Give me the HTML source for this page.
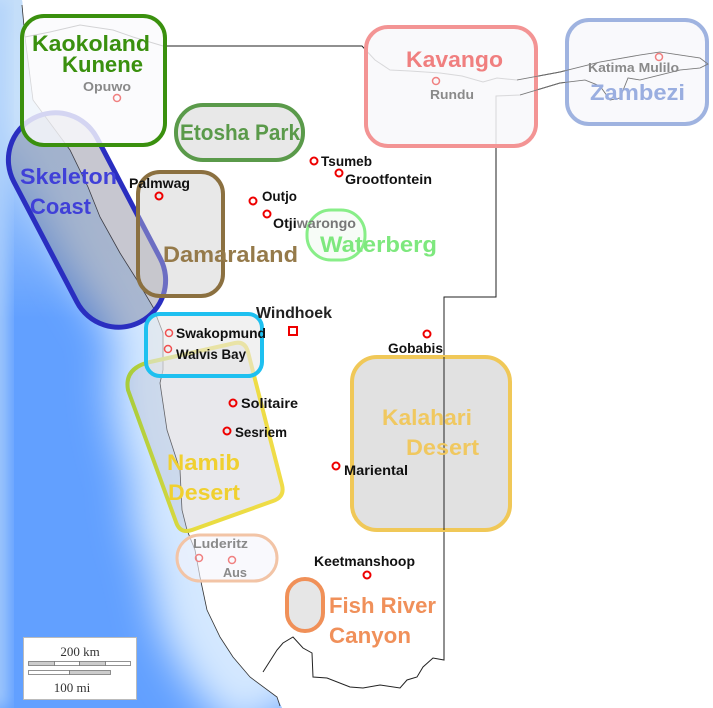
<!DOCTYPE html>
<html><head><meta charset="utf-8"><style>
html,body{margin:0;padding:0;background:#fff}
svg{display:block}
.c{font-family:"Liberation Sans",sans-serif;font-weight:bold;font-size:14px;fill:#111}
.r{font-family:"Liberation Sans",sans-serif;font-weight:bold;font-size:22px}
.g{font-family:"Liberation Sans",sans-serif;font-weight:bold;font-size:13px;fill:#8a8a8a}
</style></head><body>
<svg width="713" height="708" viewBox="0 0 713 708" xmlns="http://www.w3.org/2000/svg">
<defs>
<clipPath id="oc"><path d="M0,0 L22,0 L24,30 L25,37 L33,100 L53,127 L70,150 L88,187 L100,217 L120,253 L137,280 L153,307 L163,333 L163,370 L160,383 L167,430 L180,470 L182,510 L187,530 L195,550 L200,577 L207,610 L220,637 L233,657 L250,677 L277,697 L282,708 L0,708 Z"/></clipPath>
<filter id="bl" x="-50%" y="-50%" width="200%" height="200%"><feGaussianBlur stdDeviation="20"/></filter>
<filter id="bl2" x="-50%" y="-50%" width="200%" height="200%"><feGaussianBlur stdDeviation="8"/></filter>
<linearGradient id="ng" x1="0" y1="0" x2="1" y2="0"><stop offset="0" stop-color="#a8cc3c"/><stop offset="0.45" stop-color="#e8dc40"/><stop offset="1" stop-color="#f0dc48"/></linearGradient>
<linearGradient id="tv" x1="0" y1="0" x2="0" y2="1"><stop offset="0" stop-color="#c4def9"/><stop offset="0.2" stop-color="#c4def9" stop-opacity="0.7"/><stop offset="0.45" stop-color="#c4def9" stop-opacity="0"/></linearGradient>
</defs>
<rect width="713" height="708" fill="#fff"/>
<g clip-path="url(#oc)">
<rect width="300" height="708" fill="#62a0ff"/>
<path d="M22,0 L25,37 L33,100 L53,127 L70,150 L88,187 L100,217 L120,253 L137,280 L153,307 L163,333 L163,370 L160,383 L167,430 L180,470 L182,510 L187,530 L195,550 L200,577 L207,610 L220,637 L233,657 L250,677 L277,697 L282,708" fill="none" stroke="#d4e8ff" stroke-width="100" filter="url(#bl)"/>
<rect width="300" height="708" fill="url(#tv)"/>
<rect x="-10" y="0" width="16" height="708" fill="#b0d2fb" filter="url(#bl2)"/>
</g>
<path d="M22,5 L25,37 L33,100 L53,127 L70,150 L88,187 L100,217 L120,253 L137,280 L153,307 L163,333 L163,370 L160,383 L167,430 L180,470 L182,510 L187,530 L195,550 L200,577 L207,610 L220,637 L233,657 L250,677 L277,697 L280,706" fill="none" stroke="#333" stroke-width="0.8"/>
<path d="M25,37 L50,32 L80,25 L93,27 L113,30 L133,37 L163,46 L362,46 L375,60 L390,70 L410,71 L440,73 L462,76 L483,82 L497,78 L517,80 L560,72 L600,62 L640,55 L660,52 L680,55 L700,58 L708,64 L700,68 L680,70 L660,75 L640,80 L628,78 L620,98 L610,100 L600,86 L585,80 L560,83 L520,95 L496,96 L496,297 L444,297 L444,660 L433,658 L423,667 L417,677 L407,680 L400,688 L380,685 L363,688 L350,687 L327,678 L313,677 L312,653 L303,648 L293,637 L283,643 L277,650 L263,672" fill="none" stroke="#222" stroke-width="1"/>
<g transform="translate(87,220) rotate(-27.7)">
<rect x="-47" y="-115" width="94" height="230" rx="47" fill="rgba(80,80,110,0.32)" stroke="#2a2ec0" stroke-width="5"/>
</g>
<rect x="22" y="16" width="143" height="129" rx="22" fill="rgba(250,250,253,0.82)" stroke="#3a900e" stroke-width="4"/>
<text class="r" x="32" y="51" fill="#3a900e" textLength="118" lengthAdjust="spacingAndGlyphs">Kaokoland</text>
<text class="r" x="62" y="72" fill="#3a900e" textLength="81" lengthAdjust="spacingAndGlyphs">Kunene</text>
<text class="g" x="83" y="91" textLength="48" lengthAdjust="spacingAndGlyphs">Opuwo</text>
<circle cx="117" cy="98" r="3.5" fill="none" stroke="#f08080" stroke-width="1.5"/>
<text class="r" x="20" y="184" fill="#4040d8" textLength="97" lengthAdjust="spacingAndGlyphs">Skeleton</text>
<text class="r" x="30" y="214" fill="#4040d8" textLength="61" lengthAdjust="spacingAndGlyphs">Coast</text>
<rect x="176" y="105" width="127" height="55" rx="27" fill="#e8e8e8" stroke="#5a9a4a" stroke-width="4"/>
<text class="r" x="180" y="140" fill="#5a9a4a" textLength="120" lengthAdjust="spacingAndGlyphs">Etosha Park</text>
<rect x="138" y="172" width="85" height="124" rx="22" fill="rgba(200,200,200,0.42)" stroke="#8b7040" stroke-width="4"/>
<text class="r" x="163" y="262" fill="#957a4a" textLength="135" lengthAdjust="spacingAndGlyphs">Damaraland</text>
<rect x="307" y="210" width="58" height="50" rx="24" fill="rgba(240,250,240,0.5)" stroke="#88ee88" stroke-width="3"/>
<text class="r" x="320" y="252" fill="#7ee87e" textLength="117" lengthAdjust="spacingAndGlyphs">Waterberg</text>
<rect x="366" y="27" width="170" height="119" rx="22" fill="rgba(248,248,250,0.85)" stroke="#f39494" stroke-width="4"/>
<text class="r" x="406" y="67" fill="#f07f7f" textLength="97" lengthAdjust="spacingAndGlyphs">Kavango</text>
<circle cx="436" cy="81" r="3.5" fill="none" stroke="#f08080" stroke-width="1.5"/>
<text class="g" x="430" y="99" textLength="44" lengthAdjust="spacingAndGlyphs">Rundu</text>
<rect x="567" y="20" width="140" height="104" rx="22" fill="rgba(248,248,252,0.85)" stroke="#9fb3e0" stroke-width="4"/>
<path d="M517,80 L560,72 L600,62 L640,55 L660,52 L680,55 L700,58 L708,64 L700,68 L680,70 L660,75 L640,80 L628,78 L620,98 L610,100 L600,86 L585,80 L560,83 L520,95" fill="none" stroke="#777" stroke-width="0.8"/>
<circle cx="659" cy="57" r="3.5" fill="none" stroke="#f08080" stroke-width="1.5"/>
<text class="g" x="588" y="72" textLength="91" lengthAdjust="spacingAndGlyphs">Katima Mulilo</text>
<text class="r" x="590" y="100" fill="#9aaee0" textLength="95" lengthAdjust="spacingAndGlyphs">Zambezi</text>
<path d="M150,362 L235,343 Q245,341 248,352 L282,485 Q285,497 273,501 L192,530 Q180,534 176,522 L128,390 Q124,368 150,362 Z" fill="rgba(190,190,200,0.35)" stroke="url(#ng)" stroke-width="4"/>
<text class="r" x="167" y="470" fill="#f0d030" textLength="73" lengthAdjust="spacingAndGlyphs">Namib</text>
<text class="r" x="168" y="500" fill="#f0d030" textLength="72" lengthAdjust="spacingAndGlyphs">Desert</text>
<rect x="146" y="314" width="116" height="62" rx="14" fill="rgba(232,232,232,0.6)" stroke="#1ec0f0" stroke-width="4"/>
<circle cx="169" cy="333" r="3.5" fill="none" stroke="#f05050" stroke-width="1.5"/>
<text class="c" x="176" y="338" fill="#333" textLength="90" lengthAdjust="spacingAndGlyphs">Swakopmund</text>
<circle cx="168" cy="349" r="3.5" fill="none" stroke="#f05050" stroke-width="1.5"/>
<text class="c" x="176" y="359" fill="#444" textLength="70" lengthAdjust="spacingAndGlyphs">Walvis Bay</text>
<rect x="177" y="535" width="100" height="46" rx="23" fill="rgba(245,245,252,0.6)" stroke="#f2c4a6" stroke-width="3"/>
<text class="g" x="193" y="548" fill="#777" textLength="55" lengthAdjust="spacingAndGlyphs">Luderitz</text>
<circle cx="199" cy="558" r="3.5" fill="none" stroke="#f08080" stroke-width="1.5"/>
<circle cx="232" cy="560" r="3.5" fill="none" stroke="#f08080" stroke-width="1.5"/>
<text class="g" x="223" y="577" fill="#777" textLength="24" lengthAdjust="spacingAndGlyphs">Aus</text>
<rect x="352" y="357" width="158" height="173" rx="25" fill="rgba(222,222,222,0.9)" stroke="#f0c858" stroke-width="4"/>
<line x1="444" y1="357" x2="444" y2="530" stroke="#222" stroke-width="1"/>
<text class="r" x="382" y="425" fill="#f0c860" textLength="90" lengthAdjust="spacingAndGlyphs">Kalahari</text>
<text class="r" x="406" y="455" fill="#f0c860" textLength="73" lengthAdjust="spacingAndGlyphs">Desert</text>
<rect x="287" y="579" width="36" height="52" rx="18" fill="#e6e6e6" stroke="#f09058" stroke-width="4"/>
<text class="r" x="329" y="613" fill="#f0905a" textLength="107" lengthAdjust="spacingAndGlyphs">Fish River</text>
<text class="r" x="329" y="643" fill="#f0905a" textLength="82" lengthAdjust="spacingAndGlyphs">Canyon</text>
<g fill="none" stroke="#e00" stroke-width="2">
<circle cx="314" cy="161" r="3.5"/><circle cx="339" cy="173" r="3.5"/><circle cx="159" cy="196" r="3.5"/>
<circle cx="253" cy="201" r="3.5"/><circle cx="267" cy="214" r="3.5"/><circle cx="427" cy="334" r="3.5"/>
<circle cx="233" cy="403" r="3.5"/><circle cx="227" cy="431" r="3.5"/><circle cx="336" cy="466" r="3.5"/>
<circle cx="367" cy="575" r="3.5"/><rect x="289" y="327" width="8" height="8"/>
</g>
<text class="c" x="321" y="166" textLength="51" lengthAdjust="spacingAndGlyphs">Tsumeb</text>
<text class="c" x="345" y="184" textLength="87" lengthAdjust="spacingAndGlyphs">Grootfontein</text>
<text class="c" x="129" y="188" textLength="61" lengthAdjust="spacingAndGlyphs">Palmwag</text>
<text class="c" x="262" y="201" textLength="35" lengthAdjust="spacingAndGlyphs">Outjo</text>
<text class="c" x="273" y="228" textLength="83" lengthAdjust="spacingAndGlyphs">Otji<tspan fill="#777">warongo</tspan></text>
<text class="c" x="256" y="318" style="font-size:16px;fill:#222" textLength="76" lengthAdjust="spacingAndGlyphs">Windhoek</text>
<text class="c" x="388" y="353" textLength="55" lengthAdjust="spacingAndGlyphs">Gobabis</text>
<text class="c" x="241" y="408" textLength="57" lengthAdjust="spacingAndGlyphs">Solitaire</text>
<text class="c" x="235" y="437" textLength="52" lengthAdjust="spacingAndGlyphs">Sesriem</text>
<text class="c" x="344" y="475" textLength="64" lengthAdjust="spacingAndGlyphs">Mariental</text>
<text class="c" x="314" y="566" textLength="101" lengthAdjust="spacingAndGlyphs">Keetmanshoop</text>
<rect x="23.5" y="637.5" width="113" height="62" fill="#fff" stroke="#bbb"/>
<text x="80" y="656" text-anchor="middle" font-family="Liberation Serif,serif" font-size="13" fill="#333">200 km</text>
<g stroke="#777" stroke-width="0.8">
<rect x="28.5" y="661.5" width="26" height="4" fill="#ccc"/><rect x="54.5" y="661.5" width="25" height="4" fill="#fff"/>
<rect x="79.5" y="661.5" width="26" height="4" fill="#ccc"/><rect x="105.5" y="661.5" width="25" height="4" fill="#fff"/>
<rect x="28.5" y="670.5" width="41" height="4" fill="#fff"/><rect x="69.5" y="670.5" width="41" height="4" fill="#ccc"/>
</g>
<text x="72" y="692" text-anchor="middle" font-family="Liberation Serif,serif" font-size="13" fill="#333">100 mi</text>
</svg>
</body></html>
